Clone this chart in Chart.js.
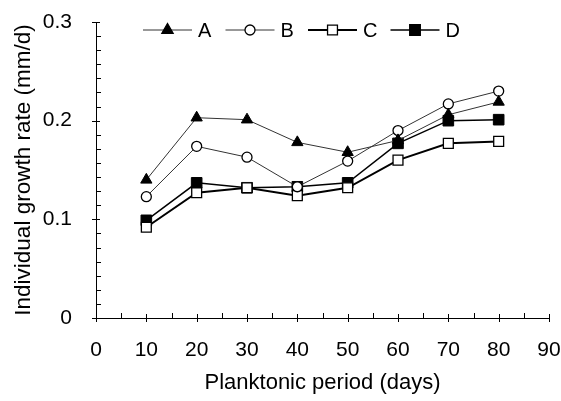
<!DOCTYPE html>
<html>
<head>
<meta charset="utf-8">
<script src="https://cdn.jsdelivr.net/npm/chart.js@4/dist/chart.umd.min.js"></script>
<style>
  html, body { margin: 0; padding: 0; background: #fff; }
  #wrap { width: 561px; height: 401px; }
</style>
</head>
<body>
<div id="wrap"><canvas id="growthChart" width="561" height="401"></canvas></div>
<script>
// planktonic period (days)
const days = [10, 20, 30, 40, 50, 60, 70, 80];
// individual growth rate (mm/d)
const seriesA = [0.140, 0.203, 0.201, 0.178, 0.168, 0.180, 0.206, 0.219];
const seriesB = [0.123, 0.174, 0.163, 0.133, 0.159, 0.190, 0.217, 0.230];
const seriesC = [0.092, 0.127, 0.132, 0.124, 0.132, 0.160, 0.177, 0.179];
const seriesD = [0.099, 0.137, 0.132, 0.133, 0.137, 0.177, 0.200, 0.201];
const seriesLabels = ['A', 'B', 'C', 'D'];
const xTicks = [0, 10, 20, 30, 40, 50, 60, 70, 80, 90];
const yTicks = [0, 0.1, 0.2, 0.3];

const FONT = 'Liberation Sans, Arial, sans-serif';

function pts(values) {
    return days.map((d, i) => ({ x: d, y: values[i] }));
}

// tick marks drawn by hand: major ones cross the axis, minor ones point inward
const axisTicks = {
    id: 'axisTicks',
    afterDraw(chart) {
        const ctx = chart.ctx;
        const xs = chart.scales.x;
        const ys = chart.scales.y;
        const x0 = xs.left;
        const y0 = ys.bottom;
        ctx.save();
        ctx.strokeStyle = '#000';
        ctx.lineWidth = 1;
        ctx.beginPath();
        xTicks.forEach(v => {
            const px = Math.round(xs.getPixelForValue(v)) + 0.5;
            ctx.moveTo(px, y0 - 4);
            ctx.lineTo(px, y0 + 4);
        });
        for (let v = 5; v < 90; v += 10) {
            const px = Math.round(xs.getPixelForValue(v)) + 0.5;
            ctx.moveTo(px, y0);
            ctx.lineTo(px, y0 - 5);
        }
        yTicks.forEach(v => {
            const py = Math.round(ys.getPixelForValue(v)) + 0.5;
            ctx.moveTo(x0 - 4, py);
            ctx.lineTo(x0 + 4, py);
        });
        for (let i = 1; i < 21; i++) {
            if (i % 7 === 0) continue;
            const py = Math.round(ys.getPixelForValue(i * 0.1 / 7)) + 0.5;
            ctx.moveTo(x0, py);
            ctx.lineTo(x0 + 5, py);
        }
        ctx.stroke();
        ctx.restore();
    }
};

// legend inside the plot, line + marker + letter
const inlineLegend = {
    id: 'inlineLegend',
    afterDraw(chart) {
        const ctx = chart.ctx;
        const y = 30;
        ctx.save();
        chart.data.datasets.forEach((ds, i) => {
            const x = 143 + i * 82.5;
            ctx.strokeStyle = ds.borderColor;
            ctx.lineWidth = ds.borderWidth;
            ctx.beginPath();
            ctx.moveTo(x, y);
            ctx.lineTo(x + 49, y);
            ctx.stroke();
            ctx.strokeStyle = '#000';
            ctx.lineWidth = 1.3;
            ctx.fillStyle = ds.pointBackgroundColor;
            Chart.helpers.drawPoint(ctx, {
                pointStyle: ds.pointStyle,
                radius: ds.pointRadius,
                borderWidth: 1.3
            }, x + 24.5, y);
            ctx.fillStyle = '#000';
            ctx.font = '20px ' + FONT;
            ctx.textBaseline = 'middle';
            ctx.textAlign = 'left';
            ctx.fillText(ds.label, x + 55, y + 1);
        });
        ctx.restore();
    }
};

const ctx = document.getElementById('growthChart').getContext('2d');
new Chart(ctx, {
    type: 'line',
    data: {
        datasets: [
            {
                label: seriesLabels[0],
                data: pts(seriesA),
                borderColor: '#333',
                borderWidth: 1,
                pointStyle: 'triangle',
                pointRadius: 6.5,
                pointBackgroundColor: '#000',
                pointBorderColor: '#000',
                pointBorderWidth: 1
            },
            {
                label: seriesLabels[1],
                data: pts(seriesB),
                borderColor: '#333',
                borderWidth: 1,
                pointStyle: 'circle',
                pointRadius: 5,
                pointBackgroundColor: '#fff',
                pointBorderColor: '#000',
                pointBorderWidth: 1.3
            },
            {
                label: seriesLabels[2],
                data: pts(seriesC),
                borderColor: '#000',
                borderWidth: 2,
                pointStyle: 'rect',
                pointRadius: 7,
                pointBackgroundColor: '#fff',
                pointBorderColor: '#000',
                pointBorderWidth: 1.3
            },
            {
                label: seriesLabels[3],
                data: pts(seriesD),
                borderColor: '#000',
                borderWidth: 1.5,
                pointStyle: 'rect',
                pointRadius: 7.5,
                pointBackgroundColor: '#000',
                pointBorderColor: '#000',
                pointBorderWidth: 1
            }
        ]
    },
    options: {
        responsive: false,
        animation: false,
        layout: { padding: { top: 22, right: 12, bottom: 0, left: 0 } },
        plugins: {
            legend: { display: false },
            tooltip: { enabled: false }
        },
        scales: {
            x: {
                type: 'linear',
                min: 0,
                max: 90,
                afterFit: s => {
                    s.height = 83;
                    s.paddingLeft = 0;
                    s.paddingRight = 0;
                },
                grid: { display: false, drawTicks: false, tickLength: 0 },
                border: { color: '#000', width: 1 },
                ticks: {
                    stepSize: 10,
                    padding: 20,
                    color: '#000',
                    font: { family: FONT, size: 21 }
                },
                title: {
                    display: true,
                    text: 'Planktonic period (days)',
                    color: '#000',
                    font: { family: FONT, size: 22 },
                    padding: { top: 5, bottom: 5 }
                }
            },
            y: {
                min: 0,
                max: 0.3,
                afterFit: s => {
                    s.width = 96;
                    s.paddingTop = 0;
                    s.paddingBottom = 0;
                },
                grid: { display: false, drawTicks: false, tickLength: 0 },
                border: { color: '#000', width: 1 },
                ticks: {
                    stepSize: 0.1,
                    padding: 24,
                    color: '#000',
                    font: { family: FONT, size: 21 }
                },
                title: {
                    display: true,
                    text: 'Individual growth rate (mm/d)',
                    color: '#000',
                    font: { family: FONT, size: 22.5 },
                    padding: { top: 10, bottom: 0 }
                }
            }
        }
    },
    plugins: [axisTicks, inlineLegend]
});
</script>
</body>
</html>
